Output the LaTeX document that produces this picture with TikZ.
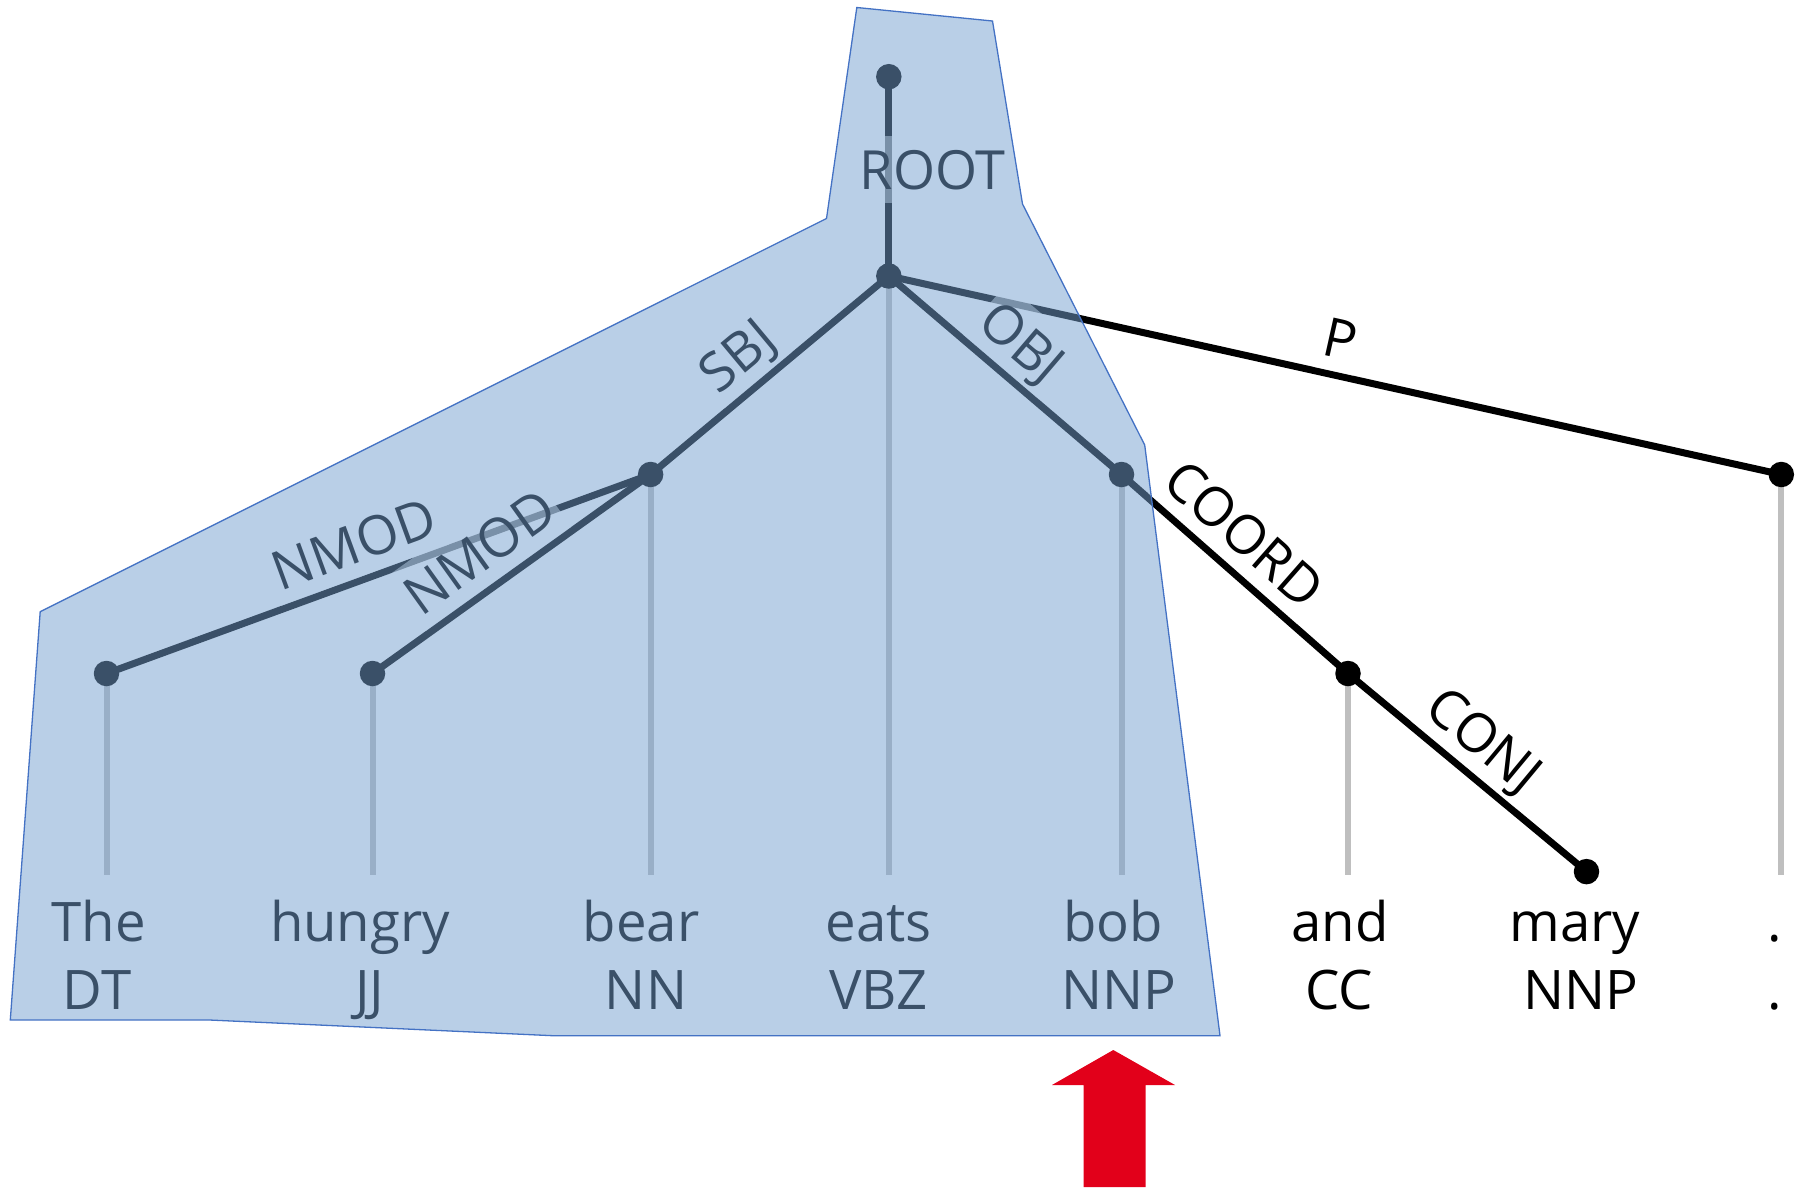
\documentclass[tikz,border=0pt]{standalone}
\usepackage{fontspec}
\setmainfont{Open Sans}
\definecolor{overlayblue}{RGB}{116,160,208}
\definecolor{polyedge}{RGB}{68,114,196}
\definecolor{stemgray}{RGB}{191,191,191}
\definecolor{arrowred}{RGB}{226,0,26}
\begin{document}
\begin{tikzpicture}[x=1pt,y=-1pt,
  dot/.style={circle,fill=black,inner sep=0pt,minimum size=25.5pt},
  stem/.style={draw=stemgray,line width=6pt},
  dep/.style={draw=black,line width=7pt},
  lbl/.style={font=\fontsize{54}{64}\selectfont, fill=white, fill opacity=0.5, text opacity=1,
              inner xsep=4pt, inner ysep=14pt, text height=39pt, text depth=0pt},
  word/.style={font=\fontsize{54.5}{66}\selectfont, anchor=base, inner sep=0pt},
  overlay/.style={fill=overlayblue, fill opacity=0.5, draw=polyedge, draw opacity=1, line width=1.3pt}]
\useasboundingbox (0,0) rectangle (1796,1187);
% dot positions
\coordinate (top)  at (888.8,76.7);
\coordinate (eats) at (888.8,276);
\coordinate (the)  at (106.5,673.5);
\coordinate (hun)  at (372.5,673.5);
\coordinate (bear) at (650.6,474.5);
\coordinate (bob)  at (1121.5,474.5);
\coordinate (and)  at (1348,673.5);
\coordinate (mary) at (1586.5,871.6);
\coordinate (per)  at (1781.3,474.5);
% stem ends
\coordinate (sthe)  at (106.5,875);
\coordinate (shun)  at (372.5,875);
\coordinate (sbear) at (650.6,875);
\coordinate (seats) at (888.8,875);
\coordinate (sbob)  at (1121.5,875);
\coordinate (sand)  at (1348,875);
\coordinate (sper)  at (1781.3,875);
% stems
\draw[stem] (the) -- (sthe);
\draw[stem] (hun) -- (shun);
\draw[stem] (bear) -- (sbear);
\draw[stem] (eats) -- (seats);
\draw[stem] (bob) -- (sbob);
\draw[stem] (and) -- (sand);
\draw[stem] (per) -- (sper);
% dependency edges
\draw[dep] (top) -- node[lbl, pos=0.468, xshift=44pt] {ROOT} (eats);
\draw[dep] (eats) -- node[lbl, sloped, above, pos=0.497] {P} (per);
\draw[dep] (eats) -- node[lbl, sloped, above, pos=0.54] {SBJ} (bear);
\draw[dep] (eats) -- node[lbl, sloped, above, pos=0.472] {OBJ} (bob);
\draw[dep] (bear) -- node[lbl, sloped, above, pos=0.522] {NMOD} (the);
\draw[dep] (bear) -- node[lbl, sloped, above, pos=0.539] {NMOD} (hun);
\draw[dep] (bob) -- node[lbl, sloped, above, pos=0.437] {COORD} (and);
\draw[dep] (and) -- node[lbl, sloped, above, pos=0.477] {CONJ} (mary);
% dots
\foreach \p in {top,eats,the,hun,bear,bob,and,mary,per}
  \node[dot] (d\p) at (\p) {};
% words and tags
\node[word] (wthe)  at (98.5,941)  {The};
\node[word] (tthe)  at (97,1009)   {DT};
\node[word] (whun)  at (360,941)   {hungry};
\node[word] (thun)  at (370,1009)  {JJ};
\node[word] (wbear) at (641,941)   {bear};
\node[word] (tbear) at (646,1009)  {NN};
\node[word] (weats) at (878.5,941) {eats};
\node[word] (teats) at (878.5,1009){VBZ};
\node[word] (wbob)  at (1113,941)  {bob};
\node[word] (tbob)  at (1119,1009) {NNP};
\node[word] (wand)  at (1340,941)  {and};
\node[word] (tand)  at (1339,1009) {CC};
\node[word] (wmary) at (1575,941)  {mary};
\node[word] (tmary) at (1581,1009) {NNP};
\node[word] (wper)  at (1775,941)  {.};
\node[word] (tper)  at (1775,1009) {.};
% highlighted region
\path[overlay] (856.8,7.5) -- (992.5,21) -- (1022.5,204) -- (1144.7,445) -- (1220,1035.7)
  -- (553,1035.7) -- (209.6,1020) -- (10.3,1020) -- (40.2,611.7) -- (826.5,218.5) -- cycle;
% red arrow
\fill[arrowred] (1113.3,1050) -- (1175,1085) -- (1145.5,1085) -- (1145.5,1187)
  -- (1083.6,1187) -- (1083.6,1085) -- (1052,1085) -- cycle;
\end{tikzpicture}
\end{document}
